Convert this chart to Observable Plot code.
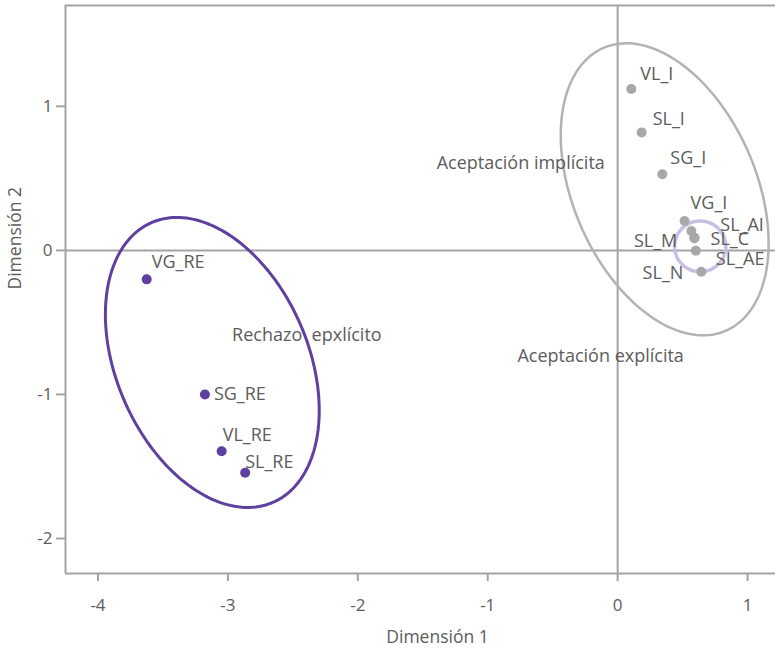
<!DOCTYPE html>
<html><head><meta charset="utf-8">
<script src="https://cdn.jsdelivr.net/npm/d3@7"></script>
<script src="https://cdn.jsdelivr.net/npm/@observablehq/plot@0.6"></script>
<style>body{margin:0;background:#fff} #chart svg{font-family:"Open Sans",sans-serif;}</style>
</head><body><div id="chart"></div>
<script>
// ---- data ----
const pointLabels = ["VG_RE","SG_RE","VL_RE","SL_RE","VL_I","SL_I","SG_I","VG_I","SL_AI","SL_C","SL_M","SL_AE","SL_N"];
const dim1 = [-3.625,-3.177,-3.048,-2.867,0.105,0.185,0.344,0.515,0.567,0.592,0.590,0.602,0.644];
const dim2 = [-0.201,-1.000,-1.394,-1.544,1.120,0.819,0.528,0.204,0.134,0.088,0.085,-0.002,-0.148];
const pointGroup = ["rechazo","rechazo","rechazo","rechazo","aceptacion","aceptacion","aceptacion","aceptacion","aceptacion","aceptacion","aceptacion","aceptacion","aceptacion"];

const ellipseNames = ["Rechazo explícito","Aceptación implícita","Aceptación explícita"];
const ellipseCx = [-3.12, 0.362, 0.635];
const ellipseCy = [-0.778, 0.424, 0.028];
const ellipseAx = [0.823, 0.80, 0.197];     // x half-extent (cos term)
const ellipseCy2 = [-0.333, -0.374, 0.0];   // y cos term (tilt)
const ellipseDy = [0.95, 0.942, 0.176];     // y sin term

const annotationTexts = ["Aceptación implícita","Rechazo\u00a0 epxlícito","Aceptación explícita"];
const annotationX = [-0.746, -2.392, -0.131];
const annotationY = [0.604, -0.590, -0.736];

const xTicks = [-4,-3,-2,-1,0,1];
const yTicks = [-2,-1,0,1];

// ---- layout / style ----
const groupColor = {rechazo: "#5f3f9f", aceptacion: "#a8a8a8"};
const ellipseColor = ["#5f3f9f", "#b3b3b3", "#c9bee3"];
const ellipseWidth = [3, 2.5, 3.5];
// label placement [dx, dy, textAnchor]
const labelPlace = [[5,-17,"start"],[9,0,"start"],[1,-16,"start"],[0,-11,"start"],
  [9,-15,"start"],[11,-13,"start"],[8,-16,"start"],[6,-18,"start"],[29,-6,"start"],
  [16,2,"start"],[-17,3,"end"],[20,9,"start"],[-18,2,"end"]];

const xDomain = [-4.25, 1.215];
const yDomain = [-2.243, 1.70];
const textColor = "#5c5c5c";
const lineColor = "#a3a3a3";
const fs = 18;

const points = pointLabels.map((l,i)=>({label:l, x:dim1[i], y:dim2[i], group:pointGroup[i]}));

const ellipsePts = [];
ellipseNames.forEach((n,i)=>{
  for (let k=0;k<=180;k++){
    const t = 2*Math.PI*k/180;
    ellipsePts.push({name:n, x: ellipseCx[i] + ellipseAx[i]*Math.cos(t),
      y: ellipseCy[i] + ellipseCy2[i]*Math.cos(t) + ellipseDy[i]*Math.sin(t)});
  }
});

const annotations = annotationTexts.map((t,i)=>({text:t, x:annotationX[i], y:annotationY[i]}));

const labelMarks = points.map((p,i)=>Plot.text([p], {x:"x", y:"y", text:"label",
  dx:labelPlace[i][0], dy:labelPlace[i][1], textAnchor:labelPlace[i][2], fontSize:fs, fill:textColor}));

const ellipseMarks = ellipseNames.map((n,i)=>Plot.line(ellipsePts.filter(d=>d.name===n),
  {x:"x", y:"y", stroke:ellipseColor[i], strokeWidth:ellipseWidth[i], curve:"linear"}));

const chart = Plot.plot({
  width: 775, height: 649,
  marginLeft: 65, marginRight: 0, marginTop: 5, marginBottom: 76,
  x: {domain: xDomain},
  y: {domain: yDomain},
  style: {fontFamily: '"Open Sans", sans-serif', fontSize: fs + "px", background: "#fff"},
  marks: [
    Plot.ruleX([0], {stroke: lineColor, strokeWidth: 2}),
    Plot.ruleY([0], {stroke: lineColor, strokeWidth: 2}),
    Plot.ruleX([xDomain[0]], {stroke: lineColor, strokeWidth: 2}),
    Plot.ruleY(yDomain, {stroke: lineColor, strokeWidth: 2}),
    Plot.axisX({ticks: xTicks, tickSize: 8, tickPadding: 17, tickFormat: d=>String(d), label: null,
      stroke: lineColor, strokeWidth: 2, fill: textColor, fontSize: 17}),
    Plot.axisY({ticks: yTicks, tickSize: 9, tickPadding: 4, tickFormat: d=>String(d), label: null,
      stroke: lineColor, strokeWidth: 2, fill: textColor, fontSize: 17}),
    Plot.text(["Dimensión 1"], {frameAnchor: "bottom", dy: 69, dx: 17, fontSize: 17.5, fill: textColor}),
    Plot.text(["Dimensión 2"], {frameAnchor: "left", dx: -50, rotate: -90, fontSize: 17.5, fill: textColor}),
    ...ellipseMarks,
    Plot.dot(points, {x:"x", y:"y", r:5, fill: d=>groupColor[d.group], stroke: "none"}),
    ...labelMarks,
    Plot.text(annotations, {x:"x", y:"y", text:"text", fontSize:fs, fill:textColor})
  ]
});
document.getElementById("chart").appendChild(chart);
</script>
</body></html>
